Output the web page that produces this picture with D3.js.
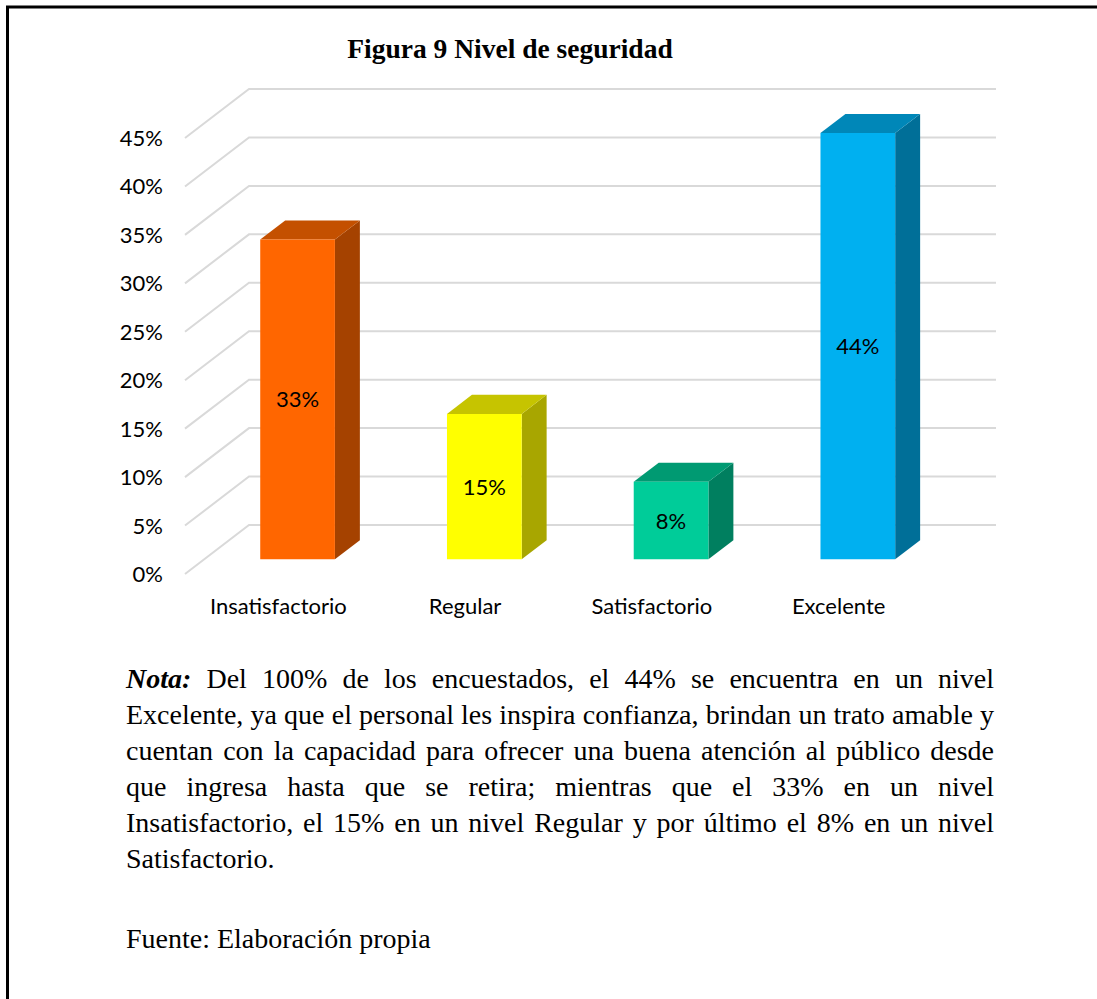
<!DOCTYPE html>
<html lang="es">
<head>
<meta charset="utf-8">
<title>Figura 9 Nivel de seguridad</title>
<script src="https://cdn.jsdelivr.net/npm/d3@7/dist/d3.min.js"></script>
<style>
  html, body { margin: 0; padding: 0; background: #fff; }
  svg { display: block; }
</style>
</head>
<body>
<svg id="chart" width="1097" height="999"></svg>
<script>
// ---- Data ----
const categories = ["Insatisfactorio", "Regular", "Satisfactorio", "Excelente"];
const values = [33, 15, 8, 44];               // percent
const yTicks = [0, 5, 10, 15, 20, 25, 30, 35, 40, 45];
const frontColors = ["#FF6600", "#FFFF00", "#00CC99", "#00B0F0"];
const topColors   = ["#C45000", "#C6C400", "#009A72", "#0087B8"];
const sideColors  = ["#A54200", "#A8A600", "#007F5F", "#006F98"];

const titleText = "Figura 9 Nivel de seguridad";
const noteLead = "Nota:";
const noteLines = [
  "Del 100% de los encuestados, el 44% se encuentra en un nivel",
  "Excelente, ya que el personal les inspira confianza, brindan un trato amable y",
  "cuentan con la capacidad para ofrecer una buena atención al público desde",
  "que ingresa hasta que se retira; mientras que el 33% en un nivel",
  "Insatisfactorio, el 15% en un nivel Regular y por último el 8% en un nivel",
  "Satisfactorio."
];
const sourceText = "Fuente: Elaboración propia";

// ---- Layout ----
const svg = d3.select("#chart");
const W = 1097, H = 999;

// front plane of the 3-D plot area
const plot = { left: 185, right: 932, bottom: 574, top: 138 };
// depth vector of the plot box (front -> back wall)
const DEPTH = { dx: 64, dy: -49 };
// bars occupy this slice of the depth
const D0 = 0.30, D1 = 0.69;

const x = d3.scaleBand()
  .domain(categories)
  .range([plot.left, plot.right])
  .paddingInner(0.6)
  .paddingOuter(0.3);

const y = d3.scaleLinear()
  .domain([0, 45])
  .range([plot.bottom, plot.top]);

// project a point (front-plane x, value, depth fraction) to screen
const proj = (px, v, d) => [px + d * DEPTH.dx, y(v) + d * DEPTH.dy];
const poly = pts => "M" + pts.map(p => p.join(",")).join("L") + "Z";

// ---- Frame ----
svg.append("path")
  .attr("d", `M7.5,${H} L7.5,7 L${W},7`)
  .attr("fill", "none")
  .attr("stroke", "#000")
  .attr("stroke-width", 3);

// ---- Title ----
svg.append("text")
  .attr("x", 510)
  .attr("y", 58)
  .attr("text-anchor", "middle")
  .attr("font-family", "'Liberation Serif', 'Times New Roman', serif")
  .attr("font-weight", "bold")
  .attr("font-size", 27.5)
  .attr("fill", "#000")
  .text(titleText);

// ---- Gridlines: side wall diagonals + back wall horizontals ----
const grid = svg.append("g")
  .attr("stroke", "#D9D9D9")
  .attr("stroke-width", 2)
  .attr("fill", "none");

grid.selectAll("path.wall")
  .data(yTicks)
  .join("path")
  .attr("class", "wall")
  .attr("d", v => {
    const a = proj(plot.left, v, 0);
    const b = proj(plot.left, v, 1);
    const c = proj(plot.right, v, 1);
    return `M${a}L${b}L${c}`;
  });

// ---- Y axis labels ----
const axisFont = "Lato, 'Open Sans', sans-serif";
svg.append("g")
  .selectAll("text")
  .data(yTicks)
  .join("text")
  .attr("x", 163)
  .attr("y", v => y(v) + 8)
  .attr("text-anchor", "end")
  .attr("font-family", axisFont)
  .attr("font-size", 22)
  .attr("fill", "#000")
  .text(v => d3.format("d")(v) + "%");

// ---- Category labels ----
svg.append("g")
  .selectAll("text")
  .data(categories)
  .join("text")
  .attr("x", c => x(c) + x.bandwidth() / 2)
  .attr("y", 614)
  .attr("text-anchor", "middle")
  .attr("font-family", axisFont)
  .attr("font-size", 22)
  .attr("fill", "#000")
  .text(c => c);

// ---- 3-D bars ----
const bars = svg.append("g")
  .selectAll("g")
  .data(categories.map((c, i) => ({ c, v: values[i], i })))
  .join("g");

bars.each(function (d) {
  const g = d3.select(this);
  const x0 = x(d.c), x1 = x(d.c) + x.bandwidth();
  // side face
  g.append("path")
    .attr("d", poly([proj(x1, 0, D0), proj(x1, d.v, D0), proj(x1, d.v, D1), proj(x1, 0, D1)]))
    .attr("fill", sideColors[d.i]);
  // top face
  g.append("path")
    .attr("d", poly([proj(x0, d.v, D0), proj(x1, d.v, D0), proj(x1, d.v, D1), proj(x0, d.v, D1)]))
    .attr("fill", topColors[d.i]);
  // front face
  g.append("path")
    .attr("d", poly([proj(x0, 0, D0), proj(x1, 0, D0), proj(x1, d.v, D0), proj(x0, d.v, D0)]))
    .attr("fill", frontColors[d.i]);
  // value label in the middle of the front face
  const mid = proj((x0 + x1) / 2, d.v / 2, D0);
  g.append("text")
    .attr("x", mid[0])
    .attr("y", mid[1] + 8)
    .attr("text-anchor", "middle")
    .attr("font-family", axisFont)
    .attr("font-size", 22)
    .attr("fill", "#000")
    .text(d.v + "%");
});

// ---- Note paragraph (justified) ----
const note = { left: 126, right: 994, firstBaseline: 688, lineGap: 36, size: 28 };
const serif = "'Liberation Serif', 'Times New Roman', serif";

noteLines.forEach((line, li) => {
  const words = line.split(" ");
  const t = svg.append("text")
    .attr("y", note.firstBaseline + li * note.lineGap)
    .attr("font-family", serif)
    .attr("font-size", note.size)
    .attr("fill", "#000");

  const parts = [];
  if (li === 0) parts.push({ w: noteLead, lead: true });
  words.forEach(w => parts.push({ w, lead: false }));

  const spans = parts.map(p => t.append("tspan")
    .attr("font-weight", p.lead ? "bold" : null)
    .attr("font-style", p.lead ? "italic" : null)
    .text(p.w));

  const widths = spans.map(s => s.node().getComputedTextLength());
  const total = d3.sum(widths);
  const last = li === noteLines.length - 1;
  const gap = last ? note.size * 0.25 : (note.right - note.left - total) / (spans.length - 1);
  let cx = note.left;
  spans.forEach((s, k) => {
    s.attr("x", cx);
    cx += widths[k] + gap;
  });
});

svg.append("text")
  .attr("x", note.left)
  .attr("y", 948)
  .attr("font-family", serif)
  .attr("font-size", note.size)
  .attr("fill", "#000")
  .text(sourceText);
</script>
</body>
</html>
